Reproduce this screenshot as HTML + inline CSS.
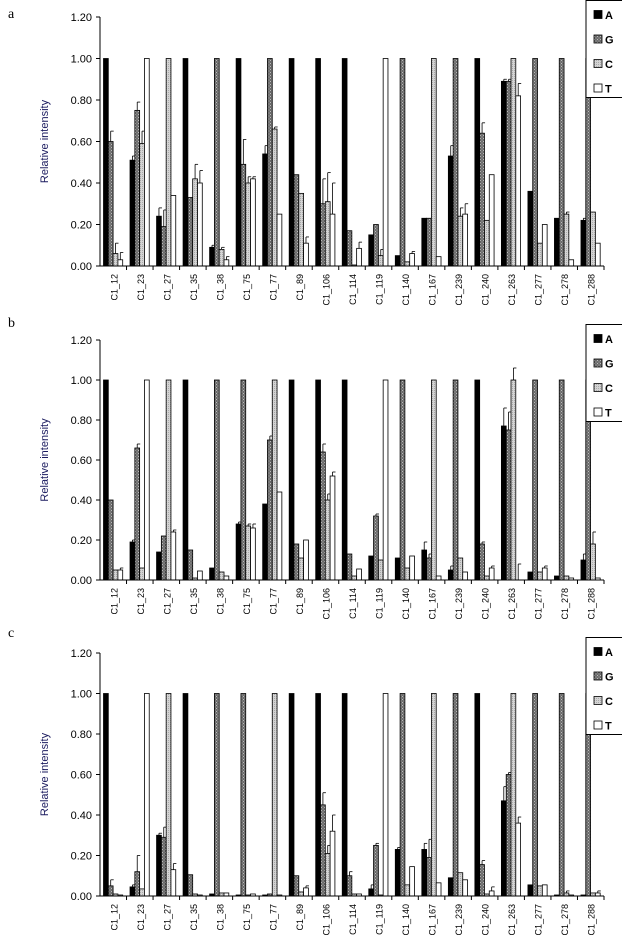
<!DOCTYPE html>
<html><head><meta charset="utf-8">
<style>
body{margin:0;background:#fff;width:622px;height:935px;overflow:hidden}
svg{display:block;font-family:"Liberation Sans",Arial,sans-serif}
</style></head>
<body>
<svg id="chart" width="622" height="935">
<defs>
<pattern id="pg" width="3" height="3" patternUnits="userSpaceOnUse"><rect width="3" height="3" fill="#6a6a6a"/><rect width="1" height="1" fill="#bbb"/><rect x="1.5" y="1.5" width="1" height="1" fill="#aaa"/></pattern>
<pattern id="pc" width="2" height="2" patternUnits="userSpaceOnUse"><rect width="2" height="2" fill="#d4d4d4"/><rect width="1" height="1" fill="#aaa"/></pattern>
</defs>
</svg>
<script>
const categories=["C1_12","C1_23","C1_27","C1_35","C1_38","C1_75","C1_77","C1_89","C1_106","C1_114","C1_119","C1_140","C1_167","C1_239","C1_240","C1_263","C1_277","C1_278","C1_288"];
const seriesNames=["A","G","C","T"];
const yTicks=[0,0.2,0.4,0.6,0.8,1.0,1.2];
const yTickLabels=["0.00","0.20","0.40","0.60","0.80","1.00","1.20"];
// panel a
const aA=[1.0,0.51,0.24,1.0,0.09,1.0,0.54,1.0,1.0,1.0,0.15,0.05,0.23,0.53,1.0,0.89,0.36,0.23,0.22];
const aG=[0.60,0.75,0.19,0.33,1.0,0.49,1.0,0.44,0.30,0.17,0.20,1.0,0.23,1.0,0.64,0.89,1.0,1.0,1.0];
const aC=[0.06,0.59,1.0,0.42,0.08,0.40,0.66,0.35,0.31,0.005,0.05,0.02,1.0,0.24,0.22,1.0,0.11,0.25,0.26];
const aT=[0.03,1.0,0.34,0.40,0.03,0.42,0.25,0.11,0.25,0.085,1.0,0.06,0.045,0.25,0.44,0.82,0.20,0.03,0.11];
const aErrA=[0,0.02,0.04,0,0.01,0,0.04,0,0,0,0,0,0,0.05,0,0.01,0,0,0.01];
const aErrG=[0.05,0.04,0.08,0,0,0.12,0,0,0.12,0,0,0,0,0,0.05,0.01,0,0,0];
const aErrC=[0.05,0.06,0,0.07,0.01,0.03,0.01,0,0.14,0,0.03,0,0,0.04,0,0,0,0.01,0];
const aErrT=[0.035,0,0,0.06,0.015,0.01,0,0.03,0.15,0.03,0,0.01,0,0.05,0,0.06,0,0,0];
// panel b
const bA=[1.0,0.19,0.14,1.0,0.06,0.28,0.38,1.0,1.0,1.0,0.12,0.11,0.15,0.05,1.0,0.77,0.04,0.02,0.10];
const bG=[0.40,0.66,0.22,0.15,1.0,1.0,0.70,0.18,0.64,0.13,0.32,1.0,0.11,1.0,0.18,0.75,1.0,1.0,1.0];
const bC=[0.05,0.06,1.0,0.01,0.04,0.27,1.0,0.11,0.40,0.02,0.10,0.06,1.0,0.11,0.02,1.0,0.04,0.02,0.18];
const bT=[0.05,1.0,0.24,0.045,0.02,0.26,0.44,0.20,0.52,0.055,1.0,0.12,0.02,0.04,0.06,0.0,0.06,0.01,0.01];
const bErrA=[0,0.01,0,0,0,0.01,0,0,0,0,0,0,0.04,0.02,0,0.09,0,0,0.03];
const bErrG=[0,0.02,0,0,0,0,0.02,0,0.04,0,0.01,0,0.02,0,0.01,0.09,0,0,0];
const bErrC=[0,0,0,0,0,0.01,0,0,0.03,0,0,0,0,0,0,0.06,0,0,0.06];
const bErrT=[0.01,0,0.01,0,0,0.02,0,0,0.02,0,0,0,0,0,0.01,0.08,0.01,0,0];
// panel c
const cA=[1.0,0.045,0.30,1.0,0.01,0.005,0.005,1.0,1.0,1.0,0.035,0.23,0.23,0.09,1.0,0.47,0.055,0.005,0.005];
const cG=[0.05,0.12,0.29,0.105,1.0,1.0,0.01,0.10,0.45,0.10,0.25,1.0,0.19,1.0,0.155,0.60,1.0,1.0,1.0];
const cC=[0.01,0.035,1.0,0.01,0.015,0.005,1.0,0.02,0.21,0.01,0.005,0.055,1.0,0.115,0.01,1.0,0.05,0.015,0.015];
const cT=[0.005,1.0,0.13,0.005,0.015,0.01,0.005,0.04,0.32,0.01,1.0,0.145,0.065,0.08,0.025,0.36,0.055,0.005,0.015];
const cErrA=[0,0.01,0.01,0,0,0,0,0,0,0,0.02,0.01,0.03,0,0,0.07,0,0,0];
const cErrG=[0.03,0.08,0.05,0,0,0,0,0,0.06,0.02,0.01,0,0.09,0,0.02,0.01,0,0,0];
const cErrC=[0,0,0,0,0,0,0,0,0.04,0,0,0,0,0,0,0,0,0.01,0];
const cErrT=[0,0,0.03,0,0,0,0,0.01,0.08,0,0,0,0,0,0.02,0.03,0,0,0.01];

const NS="http://www.w3.org/2000/svg";
const svg=document.getElementById("chart");
const fills=["#000","url(#pg)","url(#pc)","#fff"];
function mk(tag,attrs,parent){const e=document.createElementNS(NS,tag);for(const k in attrs)e.setAttribute(k,attrs[k]);(parent||svg).appendChild(e);return e;}

const panels=[
 {id:"a",letterY:18,top:17,bottom:266,legTop:0,data:[aA,aG,aC,aT],err:[aErrA,aErrG,aErrC,aErrT]},
 {id:"b",letterY:327,top:340,bottom:580,legTop:324,data:[bA,bG,bC,bT],err:[bErrA,bErrG,bErrC,bErrT]},
 {id:"c",letterY:637,top:653,bottom:896,legTop:637,data:[cA,cG,cC,cT],err:[cErrA,cErrG,cErrC,cErrT]}
];
const x0=100,x1=604;
panels.forEach(p=>{
 const g=mk("g",{});
 
 
 const yS=v=>p.bottom-(v/1.2)*(p.bottom-p.top);
 const band=(x1-x0)/categories.length;
 const xS=i=>x0+i*band;
 const lt=mk("text",{x:8,y:p.letterY,"font-family":"Liberation Serif,serif","font-size":14},g);
 lt.textContent=p.id;
 
 
 const yc=(p.top+p.bottom)/2;
 const yt=mk("text",{x:0,y:0,transform:`translate(48,${yc}) rotate(-90)`,"text-anchor":"middle","font-size":11,fill:"#1a1a5e"},g);
 yt.textContent="Relative intensity";
 
 
 yTicks.forEach((t,k)=>{
  const y=yS(t);
  mk("line",{x1:x0-4,x2:x0,y1:y,y2:y,stroke:"#000","stroke-width":1},g);
  const tl=mk("text",{x:92,y:y+4,"text-anchor":"end","font-size":11},g);
  tl.textContent=yTickLabels[k];
  
  
 });
 // bars
 const bw=4.8,off=3.5;
 categories.forEach((c,i)=>{
  for(let s=0;s<4;s++){
   const v=p.data[s][i];const bx=xS(i)+off+s*bw;const y=yS(v);
   const r=mk("rect",{x:bx,y:y,width:bw,height:Math.max(p.bottom-y,0),fill:fills[s],stroke:"#000","stroke-width":0.8},g);
   
   
   const e=p.err[s][i];
   if(e>0){const ey=yS(v+e),cx=bx+bw/2;
    mk("line",{x1:cx,x2:cx,y1:y,y2:ey,stroke:"#000","stroke-width":0.8},g);
    mk("line",{x1:cx,x2:cx+3,y1:ey,y2:ey,stroke:"#000","stroke-width":0.8},g);}
  }
  mk("line",{x1:xS(i+1),x2:xS(i+1),y1:p.bottom,y2:p.bottom+4,stroke:"#000","stroke-width":1},g);
  const cl=mk("text",{x:0,y:0,transform:`translate(${xS(i)+band/2+4},${p.bottom+8}) rotate(-90)`,"text-anchor":"end","font-size":9},g);
  cl.textContent=c;
  
  
 });
 mk("line",{x1:x0,x2:x0,y1:p.top,y2:p.bottom,stroke:"#000","stroke-width":1},g);
 mk("line",{x1:x0,x2:x1,y1:p.bottom,y2:p.bottom,stroke:"#000","stroke-width":1},g);
 // legend
 const lg=mk("g",{},g);
 
 
 mk("rect",{x:586,y:p.legTop+0.5,width:40,height:97,fill:"#fff",stroke:"#000","stroke-width":1},lg);
 seriesNames.forEach((n,s)=>{
  const ly=p.legTop+15+s*24.5;
  const e=mk("g",{},lg);
  
  
  mk("rect",{x:594,y:ly-4.5,width:8,height:8,fill:fills[s],stroke:"#000","stroke-width":0.8},e);
  const t=mk("text",{x:605,y:ly+4,"font-size":11,"font-weight":"bold"},e);
  t.textContent=n;
 });
});
</script>
</body></html>
